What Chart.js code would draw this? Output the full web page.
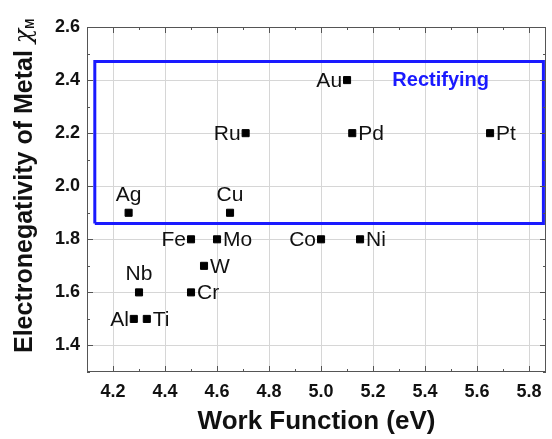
<!DOCTYPE html>
<html>
<head>
<meta charset="utf-8">
<script src="https://cdn.jsdelivr.net/npm/chart.js@4.4.0/dist/chart.umd.min.js"></script>
<style>
  html, body { margin: 0; padding: 0; background: #fff; }
</style>
</head>
<body>
<canvas id="myChart" width="552" height="439"></canvas>
<script>
// metals, work function (eV) and electronegativity
var metals = ['Au', 'Pd', 'Pt', 'Ru', 'Ag', 'Cu', 'Fe', 'Mo', 'Co', 'Ni', 'W', 'Nb', 'Cr', 'Al', 'Ti'];
var workFunction = [5.10, 5.12, 5.65, 4.71, 4.26, 4.65, 4.50, 4.60, 5.00, 5.15, 4.55, 4.30, 4.50, 4.28, 4.33];
var electroNeg = [2.4, 2.2, 2.2, 2.2, 1.9, 1.9, 1.8, 1.8, 1.8, 1.8, 1.7, 1.6, 1.6, 1.5, 1.5];
// where the name goes next to the point
var labelSide = ['left', 'right', 'right', 'left', 'above', 'above', 'left', 'right', 'left', 'right', 'right', 'above', 'right', 'left', 'right'];

// the "Rectifying" region
var boxX = [4.13, 4.13, 5.855, 5.855, 4.13];
var boxY = [1.86, 2.47, 2.47, 1.86, 1.86];
var boxLabel = 'Rectifying';
var boxLabelAt = [5.46, 2.40];

var xTicks = [4.2, 4.4, 4.6, 4.8, 5.0, 5.2, 5.4, 5.6, 5.8];
var yTicks = [1.4, 1.6, 1.8, 2.0, 2.2, 2.4, 2.6];
var xRange = [4.1, 5.865];
var yRange = [1.3, 2.6];

var points = workFunction.map(function(x, i) { return {x: x, y: electroNeg[i]}; });
var boxPoints = boxX.map(function(x, i) { return {x: x, y: boxY[i]}; });

var extras = {
    id: 'extras',
    afterDatasetsDraw: function(chart) {
        var ctx = chart.ctx;
        var a = chart.chartArea;
        var xs = chart.scales.x, ys = chart.scales.y;

        // frame
        ctx.save();
        ctx.strokeStyle = '#555';
        ctx.lineWidth = 1;
        ctx.strokeRect(a.left + 0.5, a.top + 0.5, a.right - a.left - 1, a.bottom - a.top - 1);

        // inner ticks, majors and minors
        ctx.beginPath();
        for (var v = 4.1; v <= xRange[1] + 1e-9; v += 0.1) {
            var px = Math.round(xs.getPixelForValue(v)) + 0.5;
            var major = Math.abs(Math.round(v * 5) - v * 5) < 1e-6;
            var len = major ? 6 : 3;
            ctx.moveTo(px, a.bottom); ctx.lineTo(px, a.bottom - len);
            ctx.moveTo(px, a.top); ctx.lineTo(px, a.top + len);
        }
        for (var w = 1.3; w <= yRange[1] + 1e-9; w += 0.1) {
            var py = Math.round(ys.getPixelForValue(w)) + 0.5;
            var maj = Math.abs(Math.round(w * 5) - w * 5) < 1e-6;
            var l2 = maj ? 6 : 3;
            ctx.moveTo(a.left, py); ctx.lineTo(a.left + l2, py);
            ctx.moveTo(a.right, py); ctx.lineTo(a.right - l2, py);
        }
        ctx.stroke();

        // metal names
        var meta = chart.getDatasetMeta(1);
        ctx.fillStyle = '#111';
        ctx.font = '21px "Liberation Sans", Arial, sans-serif';
        meta.data.forEach(function(pt, i) {
            var side = labelSide[i];
            if (side === 'left') {
                ctx.textAlign = 'right'; ctx.textBaseline = 'middle';
                ctx.fillText(metals[i], pt.x - 5, pt.y + 1);
            } else if (side === 'right') {
                ctx.textAlign = 'left'; ctx.textBaseline = 'middle';
                ctx.fillText(metals[i], pt.x + 6, pt.y + 1);
            } else {
                ctx.textAlign = 'center'; ctx.textBaseline = 'alphabetic';
                ctx.fillText(metals[i], pt.x, pt.y - 12);
            }
        });

        // region label
        ctx.fillStyle = '#1a1aff';
        ctx.font = 'bold 20px "Liberation Sans", Arial, sans-serif';
        ctx.textAlign = 'center'; ctx.textBaseline = 'middle';
        ctx.fillText(boxLabel, xs.getPixelForValue(boxLabelAt[0]), ys.getPixelForValue(boxLabelAt[1]));

        // y title with chi subscript M
        ctx.translate(25, 353);
        ctx.rotate(-Math.PI / 2);
        ctx.fillStyle = '#111';
        ctx.textAlign = 'left'; ctx.textBaseline = 'middle';
        ctx.font = 'bold 25px "Liberation Sans", Arial, sans-serif';
        var t1 = 'Electronegativity of Metal ';
        ctx.fillText(t1, 0, 0);
        var wdt = ctx.measureText(t1).width;
        ctx.font = 'italic 24px "DejaVu Serif", serif';
        ctx.fillText('\u03c7', wdt, 0);
        wdt += ctx.measureText('\u03c7').width;
        ctx.font = 'bold 12px "Liberation Sans", Arial, sans-serif';
        ctx.fillText('M', wdt, 6);
        ctx.restore();
    }
};

var ctx = document.getElementById('myChart').getContext('2d');
var chart = new Chart(ctx, {
    type: 'scatter',
    data: {
        datasets: [{
            label: 'box',
            data: boxPoints,
            showLine: true,
            borderColor: '#1a1aff',
            borderWidth: 3,
            pointRadius: 0,
            fill: false
        }, {
            label: 'metals',
            data: points,
            pointStyle: 'rect',
            pointRadius: 5,
            borderWidth: 1,
            backgroundColor: '#000',
            borderColor: '#000'
        }]
    },
    options: {
        responsive: false,
        animation: false,
        devicePixelRatio: 1,
        layout: { padding: { top: 27, right: 1, left: 0, bottom: 0 } },
        plugins: {
            legend: { display: false },
            tooltip: { enabled: false }
        },
        scales: {
            x: {
                type: 'linear',
                min: xRange[0], max: xRange[1],
                afterBuildTicks: function(s) { s.ticks = xTicks.map(function(v) { return {value: v}; }); },
                afterFit: function(s) { s.height = 67; },
                grid: { color: '#d6d6d6', drawTicks: false },
                border: { display: false },
                ticks: {
                    padding: 9,
                    color: '#111',
                    font: { family: '"Liberation Sans", Arial, sans-serif', size: 18, weight: 'bold' },
                    callback: function(v) { return Number(v).toFixed(1); }
                },
                title: {
                    display: true,
                    text: 'Work Function (eV)',
                    color: '#111',
                    padding: { top: 0, bottom: 2 },
                    font: { family: '"Liberation Sans", Arial, sans-serif', size: 26, weight: 'bold' }
                }
            },
            y: {
                type: 'linear',
                min: yRange[0], max: yRange[1],
                afterBuildTicks: function(s) { s.ticks = yTicks.map(function(v) { return {value: v}; }); },
                afterFit: function(s) { s.width = 87; },
                grid: { color: '#d6d6d6', drawTicks: false },
                border: { display: false },
                ticks: {
                    padding: 7,
                    color: '#111',
                    font: { family: '"Liberation Sans", Arial, sans-serif', size: 18, weight: 'bold' },
                    callback: function(v) { return Number(v).toFixed(1); }
                }
            }
        }
    },
    plugins: [extras]
});
</script>
</body>
</html>
